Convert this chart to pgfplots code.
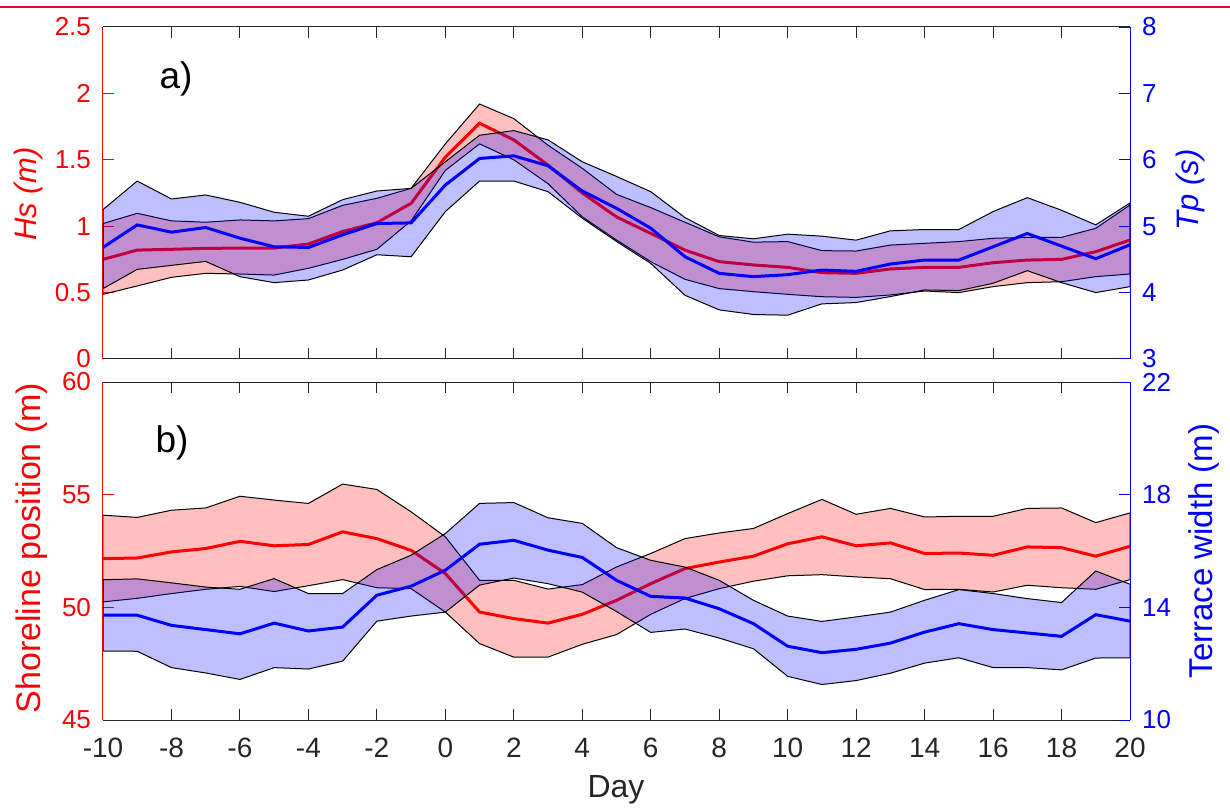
\documentclass[border=0pt]{standalone}
\usepackage{pgfplots}
\pgfplotsset{compat=1.18}
\usepackage{fontspec}
\setmainfont{Liberation Sans}
\definecolor{xgray}{RGB}{38,38,38}
\definecolor{topred}{RGB}{210,20,20}
\pgfplotsset{
  base/.style={
    scale only axis, width=513.5pt, xmin=-10, xmax=20,
    tick align=inside, major tick length=5.3pt,
    /pgf/number format/assume math mode=true,
    clip=true,
  },
  leftax/.style={base,
    axis x line*=box, axis y line*=left,
    x axis line style={-, draw=xgray, line width=0.5pt},
    y axis line style={-, draw=red, line width=0.5pt},
    xtick={-10,-8,-6,-4,-2,0,2,4,6,8,10,12,14,16,18,20},
    xtick style={draw=xgray, line width=0.5pt},
    ytick style={draw=red, line width=0.5pt},
    yticklabel style={text=red, font=\fontsize{13}{15}\selectfont, xshift=-2.5pt},
    xticklabel style={text=xgray, font=\fontsize{14}{16}\selectfont, yshift=-5.5pt},
  },
  rightax/.style={base,
    axis x line=none, axis y line*=right,
    y axis line style={-, draw=blue, line width=0.5pt},
    ytick style={draw=blue, line width=0.5pt},
    yticklabel style={text=blue, font=\fontsize{13}{15}\selectfont, xshift=2.5pt},
  },
  band/.style={draw=black, line width=0.5pt, fill=#1, fill opacity=0.25},
}
\begin{document}
\begin{tikzpicture}
\path[use as bounding box] (-51.5pt,-44.5pt) rectangle (563.5pt,360pt);
\draw[topred, line width=0.6pt] (-51.5pt,356.5pt) -- (563.5pt,356.5pt);

% ---------------- panel a, left axis (Hs) ----------------
\begin{axis}[leftax, at={(0pt,180.5pt)}, anchor=south west, height=166pt,
  ymin=0, ymax=2.5, ytick={0,0.5,1,1.5,2,2.5}, xticklabels={}]
\addplot[band=red] coordinates {
(-10,1.02) (-9,1.097) (-8,1.04) (-7,1.03) (-6,1.047) (-5,1.04) (-4,1.057) (-3,1.157) (-2,1.21) (-1,1.285) (0,1.62) (1,1.92) (2,1.81) (3,1.61) (4,1.436) (5,1.24) (6,1.14) (7,1.03) (8,0.92) (9,0.88) (10,0.884) (11,0.816) (12,0.813) (13,0.858) (14,0.871) (15,0.884) (16,0.909) (17,0.916) (18,0.916) (19,0.984) (20,1.16)
(20,0.64) (19,0.62) (18,0.582) (17,0.575) (16,0.545) (15,0.50) (14,0.512) (13,0.482) (12,0.464) (11,0.469) (10,0.487) (9,0.507) (8,0.53) (7,0.60) (6,0.733) (5,0.896) (4,1.07) (3,1.32) (2,1.50) (1,1.62) (0,1.42) (-1,1.04) (-2,0.826) (-3,0.75) (-4,0.683) (-5,0.632) (-6,0.64) (-7,0.645) (-8,0.615) (-9,0.55) (-10,0.487)
} -- cycle;
\addplot[red, line width=1.5pt] coordinates {
(-10,0.75) (-9,0.82) (-8,0.826) (-7,0.833) (-6,0.835) (-5,0.835) (-4,0.866) (-3,0.96) (-2,1.026) (-1,1.172) (0,1.52) (1,1.775) (2,1.65) (3,1.46) (4,1.25) (5,1.07) (6,0.946) (7,0.82) (8,0.733) (9,0.708) (10,0.69) (11,0.65) (12,0.645) (13,0.678) (14,0.69) (15,0.69) (16,0.725) (17,0.745) (18,0.75) (19,0.808) (20,0.896)
};
\end{axis}

% ---------------- panel a, right axis (Tp) ----------------
\begin{axis}[rightax, at={(0pt,180.5pt)}, anchor=south west, height=166pt,
  ymin=3, ymax=8, ytick={3,4,5,6,7,8}]
\addplot[band=blue] coordinates {
(-10,5.25) (-9,5.68) (-8,5.41) (-7,5.47) (-6,5.36) (-5,5.21) (-4,5.15) (-3,5.40) (-2,5.53) (-1,5.57) (0,5.97) (1,6.37) (2,6.44) (3,6.30) (4,5.97) (5,5.75) (6,5.52) (7,5.13) (8,4.86) (9,4.81) (10,4.88) (11,4.85) (12,4.79) (13,4.93) (14,4.95) (15,4.95) (16,5.22) (17,5.43) (18,5.24) (19,5.02) (20,5.35)
(20,4.09) (19,4.00) (18,4.15) (17,4.33) (16,4.14) (15,4.03) (14,4.04) (13,3.94) (12,3.85) (11,3.83) (10,3.66) (9,3.67) (8,3.74) (7,3.96) (6,4.44) (5,4.77) (4,5.12) (3,5.52) (2,5.68) (1,5.68) (0,5.22) (-1,4.54) (-2,4.57) (-3,4.34) (-4,4.19) (-5,4.15) (-6,4.24) (-7,4.47) (-8,4.41) (-9,4.35) (-10,4.06)
} -- cycle;
\addplot[blue, line width=1.5pt] coordinates {
(-10,4.68) (-9,5.02) (-8,4.91) (-7,4.98) (-6,4.82) (-5,4.69) (-4,4.68) (-3,4.87) (-2,5.04) (-1,5.05) (0,5.62) (1,6.02) (2,6.06) (3,5.91) (4,5.53) (5,5.27) (6,4.97) (7,4.54) (8,4.29) (9,4.24) (10,4.27) (11,4.34) (12,4.32) (13,4.43) (14,4.49) (15,4.49) (16,4.69) (17,4.89) (18,4.70) (19,4.51) (20,4.72)
};
\end{axis}

% ---------------- panel b, left axis (shoreline) ----------------
\begin{axis}[leftax, at={(0pt,0pt)}, anchor=south west, height=169pt,
  ymin=45, ymax=60, ytick={45,50,55,60}]
\addplot[band=red] coordinates {
(-10,54.09) (-9,53.99) (-8,54.31) (-7,54.41) (-6,54.93) (-5,54.76) (-4,54.61) (-3,55.47) (-2,55.23) (-1,54.24) (0,53.13) (1,51.20) (2,51.20) (3,50.81) (4,51.01) (5,51.79) (6,52.39) (7,53.05) (8,53.30) (9,53.50) (10,54.16) (11,54.79) (12,54.13) (13,54.39) (14,54.01) (15,54.04) (16,54.04) (17,54.39) (18,54.41) (19,53.76) (20,54.19)
(20,51.23) (19,50.80) (18,50.87) (17,50.98) (16,50.68) (15,50.80) (14,50.79) (13,51.27) (12,51.35) (11,51.45) (10,51.40) (9,51.16) (8,50.83) (7,50.39) (6,49.69) (5,48.79) (4,48.36) (3,47.79) (2,47.79) (1,48.39) (0,49.79) (-1,50.83) (-2,50.87) (-3,51.23) (-4,50.96) (-5,50.70) (-6,50.93) (-7,50.80) (-8,50.61) (-9,50.40) (-10,50.24)
} -- cycle;
\addplot[red, line width=1.5pt] coordinates {
(-10,52.16) (-9,52.19) (-8,52.46) (-7,52.61) (-6,52.93) (-5,52.73) (-4,52.79) (-3,53.35) (-2,53.05) (-1,52.53) (0,51.50) (1,49.79) (2,49.50) (3,49.30) (4,49.69) (5,50.31) (6,51.05) (7,51.72) (8,52.01) (9,52.27) (10,52.82) (11,53.13) (12,52.73) (13,52.86) (14,52.39) (15,52.41) (16,52.31) (17,52.68) (18,52.65) (19,52.27) (20,52.71)
};
\end{axis}

% ---------------- panel b, right axis (terrace width) ----------------
\begin{axis}[rightax, at={(0pt,0pt)}, anchor=south west, height=169pt,
  ymin=10, ymax=22, ytick={10,14,18,22}]
\addplot[band=blue] coordinates {
(-10,14.98) (-9,15.01) (-8,14.87) (-7,14.72) (-6,14.64) (-5,15.02) (-4,14.49) (-3,14.49) (-2,15.34) (-1,15.85) (0,16.62) (1,17.69) (2,17.72) (3,17.18) (4,16.98) (5,16.12) (6,15.67) (7,15.43) (8,14.96) (9,14.25) (10,13.69) (11,13.50) (12,13.66) (13,13.83) (14,14.25) (15,14.63) (16,14.49) (17,14.31) (18,14.17) (19,15.29) (20,14.82)
(20,12.21) (19,12.20) (18,11.78) (17,11.86) (16,11.86) (15,12.21) (14,12.02) (13,11.66) (12,11.40) (11,11.26) (10,11.55) (9,12.53) (8,12.91) (7,13.23) (6,13.11) (5,13.85) (4,14.54) (3,14.84) (2,15.04) (1,14.79) (0,13.83) (-1,13.69) (-2,13.51) (-3,12.09) (-4,11.81) (-5,11.86) (-6,11.44) (-7,11.67) (-8,11.86) (-9,12.44) (-10,12.45)
} -- cycle;
\addplot[blue, line width=1.5pt] coordinates {
(-10,13.72) (-9,13.72) (-8,13.36) (-7,13.21) (-6,13.06) (-5,13.44) (-4,13.16) (-3,13.30) (-2,14.43) (-1,14.75) (0,15.32) (1,16.24) (2,16.38) (3,16.03) (4,15.77) (5,14.96) (6,14.39) (7,14.33) (8,13.95) (9,13.42) (10,12.62) (11,12.39) (12,12.51) (13,12.73) (14,13.12) (15,13.42) (16,13.21) (17,13.09) (18,12.97) (19,13.74) (20,13.51)
};
\end{axis}

% ---------------- labels ----------------
\node[rotate=90, text=red, font=\fontsize{15.5}{17}\selectfont\itshape] at (-37.5pt,263pt) {Hs (m)};
\node[rotate=90, text=blue, font=\fontsize{15.5}{17}\selectfont\itshape] at (543.5pt,265pt) {Tp (s)};
\node[rotate=90, text=red, font=\fontsize{17}{19}\selectfont] at (-35.5pt,86pt) {Shoreline position (m)};
\node[rotate=90, text=blue, font=\fontsize{16.5}{18}\selectfont] at (550.5pt,84.5pt) {Terrace width (m)};
\node[text=xgray, font=\fontsize{16}{18}\selectfont] at (256.5pt,-35pt) {Day};
\node[font=\fontsize{18.5}{20}\selectfont] at (36.5pt,320.5pt) {a)};
\node[font=\fontsize{18.5}{20}\selectfont] at (34.5pt,138.5pt) {b)};
\end{tikzpicture}
\end{document}
